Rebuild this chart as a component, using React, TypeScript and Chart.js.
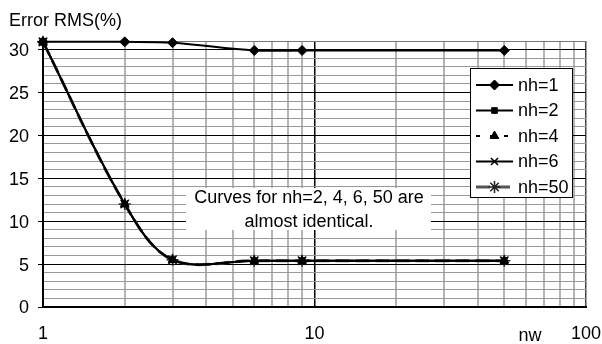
import React, { useEffect, useRef } from 'react';
import { Chart, registerables } from 'chart.js';
import { drawPoint } from 'chart.js/helpers';

Chart.register(...registerables);

// ---- data ----
const nwValues = [1, 2, 3, 6, 9, 50];
const nh1 = [30.9, 30.9, 30.8, 29.9, 29.9, 29.9];
const nh2 = [30.9, 12.0, 5.5, 5.4, 5.4, 5.4];
const nh4 = [30.9, 12.0, 5.5, 5.4, 5.4, 5.4];
const nh6 = [30.9, 12.0, 5.5, 5.4, 5.4, 5.4];
const nh50 = [30.9, 12.0, 5.5, 5.4, 5.4, 5.4];
const seriesLabels = ['nh=1', 'nh=2', 'nh=4', 'nh=6', 'nh=50'];

const xGridValues = [1, 2, 3, 4, 5, 6, 7, 8, 9, 10, 20, 30, 40, 50, 60, 70, 80, 90, 100];
const xLabelValues = [1, 10, 100];
const yGridValues = [0, 1, 2, 3, 4, 5, 6, 7, 8, 9, 10, 11, 12, 13, 14, 15, 16, 17, 18, 19, 20, 21, 22, 23, 24, 25, 26, 27, 28, 29, 30, 31];
const yLabelValues = [0, 5, 10, 15, 20, 25, 30];

const yAxisTitle = 'Error RMS(%)';
const xAxisTitle = 'nw';
const noteLines = ['Curves for nh=2, 4, 6, 50 are', 'almost identical.'];

const FONT = "'Liberation Sans', Arial, sans-serif";

const toPts = (ys: number[]) => nwValues.map((x, i) => ({ x, y: ys[i] }));

const decorPlugin = {
  id: 'decor',
  afterDatasetsDraw(chart: any) {
    const ctx = chart.ctx as CanvasRenderingContext2D;
    ctx.save();
    // note box
    ctx.fillStyle = '#fff';
    ctx.fillRect(186, 188, 245, 42);
    ctx.fillStyle = '#000';
    ctx.font = `18px ${FONT}`;
    ctx.textAlign = 'center';
    ctx.textBaseline = 'middle';
    ctx.fillText(noteLines[0], 309, 198);
    ctx.fillText(noteLines[1], 309, 222);

    // legend
    ctx.fillStyle = '#fff';
    ctx.fillRect(470, 68, 102, 129);
    ctx.strokeStyle = '#000';
    ctx.lineWidth = 1;
    ctx.strokeRect(470.5, 68.5, 102, 129);
    chart.data.datasets.forEach((ds: any, i: number) => {
      const y = 85 + i * 25.5;
      ctx.save();
      ctx.strokeStyle = ds.borderColor;
      ctx.lineWidth = ds.borderWidth;
      ctx.setLineDash(ds.borderDash || []);
      ctx.beginPath();
      ctx.moveTo(476, y);
      ctx.lineTo(513, y);
      ctx.stroke();
      ctx.restore();
      ctx.save();
      ctx.fillStyle = ds.pointBackgroundColor;
      ctx.strokeStyle = ds.pointBorderColor;
      ctx.lineWidth = ds.pointBorderWidth;
      drawPoint(ctx, { pointStyle: ds.pointStyle, radius: ds.pointRadius, rotation: 0, borderWidth: ds.pointBorderWidth } as any, 494.5, y);
      ctx.restore();
      ctx.fillStyle = '#000';
      ctx.font = `18px ${FONT}`;
      ctx.textAlign = 'left';
      ctx.textBaseline = 'middle';
      ctx.fillText(ds.label, 518, y + 1);
    });
    ctx.restore();
  },
  afterDraw(chart: any) {
    const ctx = chart.ctx as CanvasRenderingContext2D;
    ctx.save();
    ctx.fillStyle = '#000';
    ctx.font = `18px ${FONT}`;
    ctx.textAlign = 'left';
    ctx.textBaseline = 'alphabetic';
    ctx.fillText(yAxisTitle, 9, 26);
    ctx.textAlign = 'center';
    ctx.fillText(xAxisTitle, 530, 341);
    ctx.restore();
  },
};

export default function App() {
  const ref = useRef<HTMLCanvasElement>(null);

  useEffect(() => {
    const common = { clip: false as any, tension: 0.35, fill: false };
    const chart = new Chart(ref.current as HTMLCanvasElement, {
      type: 'line',
      data: {
        datasets: [
          {
            ...common,
            label: seriesLabels[0],
            data: toPts(nh1),
            borderColor: '#000',
            borderWidth: 2,
            pointStyle: 'rectRot',
            pointRadius: 5,
            pointBackgroundColor: '#000',
            pointBorderColor: '#000',
            pointBorderWidth: 1,
          },
          {
            ...common,
            label: seriesLabels[1],
            data: toPts(nh2),
            borderColor: '#000',
            borderWidth: 2,
            pointStyle: 'rect',
            pointRadius: 4,
            pointBackgroundColor: '#000',
            pointBorderColor: '#000',
            pointBorderWidth: 1,
          },
          {
            ...common,
            label: seriesLabels[2],
            data: toPts(nh4),
            borderColor: '#000',
            borderWidth: 2,
            borderDash: [4, 10],
            pointStyle: 'triangle',
            pointRadius: 5,
            pointBackgroundColor: '#000',
            pointBorderColor: '#000',
            pointBorderWidth: 1,
          },
          {
            ...common,
            label: seriesLabels[3],
            data: toPts(nh6),
            borderColor: '#000',
            borderWidth: 2,
            pointStyle: 'crossRot',
            pointRadius: 5,
            pointBackgroundColor: '#000',
            pointBorderColor: '#000',
            pointBorderWidth: 1.5,
          },
          {
            ...common,
            label: seriesLabels[4],
            data: toPts(nh50),
            borderColor: '#555',
            borderWidth: 3,
            borderDash: [14, 6],
            pointStyle: 'star',
            pointRadius: 6,
            pointBackgroundColor: '#222',
            pointBorderColor: '#222',
            pointBorderWidth: 1.5,
          },
        ],
      },
      plugins: [decorPlugin],
      options: {
        responsive: false,
        animation: false,
        devicePixelRatio: 1,
        layout: { padding: { top: 41, right: 16, left: 0, bottom: 0 } },
        plugins: {
          legend: { display: false },
          title: { display: false },
          tooltip: { enabled: false },
        },
        scales: {
          x: {
            type: 'logarithmic',
            min: 1,
            max: 100,
            afterBuildTicks: (s: any) => {
              s.ticks = xGridValues.map((v) => ({ value: v }));
            },
            afterFit: (s: any) => {
              s.height = 37;
              s.paddingRight = 0;
              s.paddingLeft = 0;
            },
            grid: {
              drawTicks: false,
              color: (c: any) => {
                const v = c.tick && c.tick.value;
                if (v === 10) return '#000';
                if (v === 100) return '#444';
                if (v === 1) return 'rgba(0,0,0,0)';
                return '#b4b4b4';
              },
              lineWidth: (c: any) => {
                const v = c.tick && c.tick.value;
                if (v === 10) return 1.5;
                if (v === 100) return 1.5;
                return 2;
              },
            },
            border: { color: '#000', width: 2 },
            ticks: {
              autoSkip: false,
              maxRotation: 0,
              padding: 16,
              color: '#000',
              font: { family: FONT, size: 18 },
              callback: (v: any) => (xLabelValues.includes(Number(v)) ? String(v) : ''),
            },
          },
          y: {
            type: 'linear',
            min: 0,
            max: 31,
            afterBuildTicks: (s: any) => {
              s.ticks = yGridValues.map((v) => ({ value: v }));
            },
            afterFit: (s: any) => {
              s.width = 43;
              s.paddingTop = 0;
              s.paddingBottom = 0;
            },
            grid: {
              tickLength: 5,
              lineWidth: 1,
              color: (c: any) => {
                const v = c.tick && c.tick.value;
                if (yLabelValues.includes(v)) return '#000';
                if (v === 31) return '#777';
                return '#999';
              },
              tickColor: (c: any) => {
                const v = c.tick && c.tick.value;
                return yLabelValues.includes(v) ? '#000' : 'rgba(0,0,0,0)';
              },
            },
            border: { color: '#000', width: 2 },
            ticks: {
              autoSkip: false,
              padding: 9,
              labelOffset: 1.5,
              color: '#000',
              font: { family: FONT, size: 18 },
              callback: (v: any) => (yLabelValues.includes(Number(v)) ? String(v) : ''),
            },
          },
        },
      } as any,
    });
    return () => chart.destroy();
  }, []);

  return (
    <div style={{ position: 'fixed', left: 0, top: 0, width: 602, height: 344, background: '#fff' }}>
      <canvas ref={ref} width={602} height={344} style={{ display: 'block', width: 602, height: 344 }} />
    </div>
  );
}
